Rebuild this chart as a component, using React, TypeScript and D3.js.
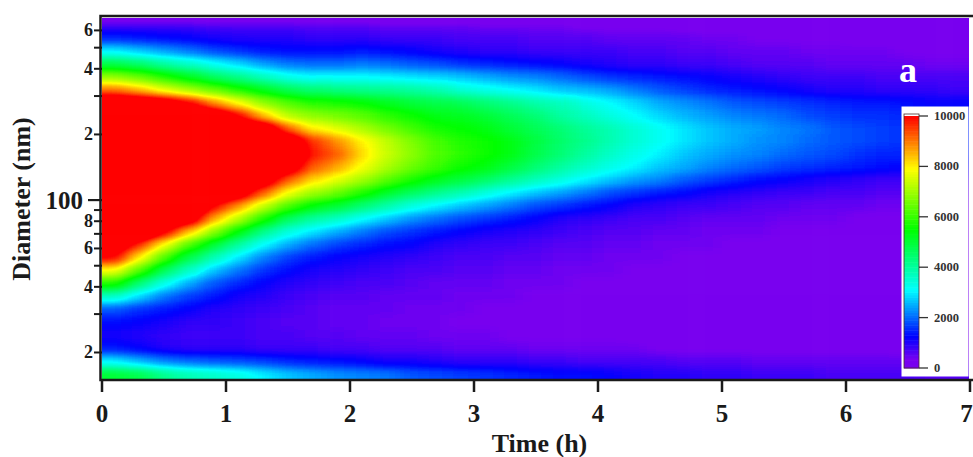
import * as d3 from "d3";

// bin centres
const times = [0.1, 0.3, 0.5, 0.7, 0.9, 1.1, 1.3, 1.5, 1.7, 1.9, 2.1, 2.3, 2.5, 2.7, 2.9, 3.1, 3.3, 3.5, 3.7, 3.9, 4.1, 4.3, 4.5, 4.7, 4.9, 5.1, 5.3, 5.5, 5.7, 5.9, 6.1, 6.3, 6.5, 6.7, 6.9];
const diameters = [670, 635, 554, 483, 421, 368, 321, 280, 244, 213, 186, 162, 141, 123, 108, 93.9, 81.9, 71.4, 62.3, 54.4, 47.4, 41.4, 36.1, 31.5, 27.5, 24, 20.9, 18.2, 15.9];

// counts in hundreds, one row per diameter, one column per time (120 = off the scale, shown red)
const counts = [
  [1, 1, 1, 1, 1, 1, 1, 1, 1, 1, 1, 1, 1, 1, 1, 1, 1, 1, 1, 1, 1, 1, 1, 1, 1, 1, 1, 1, 1, 1, 1, 1, 1, 1, 1],
  [8, 8, 8, 8, 7, 7, 7, 7, 6, 6, 6, 5, 5, 5, 5, 4, 4, 4, 4, 3, 3, 3, 3, 2, 2, 2, 2, 2, 2, 1, 1, 1, 1, 1, 1],
  [15, 14, 13, 12, 11, 10, 10, 10, 9, 9, 9, 8, 8, 8, 7, 7, 7, 6, 6, 6, 5, 5, 5, 5, 4, 4, 3, 3, 3, 3, 2, 2, 2, 2, 2],
  [30, 27, 24, 21, 18, 16, 14, 13, 13, 13, 14, 13, 12, 11, 10, 9, 9, 8, 8, 8, 8, 7, 7, 6, 6, 5, 5, 5, 4, 4, 4, 4, 3, 3, 3],
  [48, 45, 40, 36, 32, 28, 24, 21, 20, 20, 21, 20, 19, 18, 16, 15, 14, 13, 12, 11, 10, 9, 9, 8, 8, 7, 6, 6, 6, 5, 5, 5, 5, 4, 4],
  [68, 64, 58, 52, 46, 42, 37, 33, 31, 31, 31, 30, 29, 28, 27, 25, 23, 22, 20, 18, 16, 15, 14, 13, 12, 11, 10, 9, 8, 8, 8, 7, 7, 7, 7],
  [90, 84, 76, 70, 64, 58, 52, 47, 44, 43, 42, 41, 40, 38, 35, 33, 31, 29, 27, 26, 24, 21, 19, 17, 15, 14, 13, 12, 11, 10, 10, 9, 9, 9, 8],
  [115, 112, 108, 100, 88, 78, 68, 62, 58, 57, 55, 52, 50, 48, 47, 44, 42, 39, 37, 34, 31, 28, 25, 23, 21, 19, 18, 17, 16, 15, 14, 14, 13, 12, 12],
  [120, 120, 120, 120, 112, 100, 84, 72, 68, 66, 63, 59, 56, 53, 52, 50, 47, 44, 40, 37, 34, 31, 28, 26, 24, 22, 21, 20, 18, 17, 16, 16, 15, 15, 14],
  [120, 120, 120, 120, 120, 120, 112, 92, 80, 76, 71, 66, 61, 57, 55, 53, 50, 47, 44, 41, 38, 35, 32, 29, 27, 25, 24, 22, 21, 19, 18, 17, 16, 16, 15],
  [120, 120, 120, 120, 120, 120, 120, 112, 96, 88, 80, 73, 67, 61, 58, 56, 53, 49, 45, 42, 38, 35, 32, 29, 27, 25, 23, 22, 20, 19, 18, 17, 16, 15, 15],
  [120, 120, 120, 120, 120, 120, 120, 118, 98, 92, 82, 74, 68, 62, 59, 56, 53, 48, 44, 40, 36, 33, 30, 27, 25, 23, 22, 20, 19, 18, 16, 15, 15, 14, 14],
  [120, 120, 120, 120, 120, 120, 120, 108, 92, 86, 78, 71, 65, 60, 56, 53, 49, 44, 40, 36, 33, 30, 27, 25, 22, 20, 19, 17, 16, 15, 14, 13, 12, 12, 11],
  [120, 120, 120, 120, 120, 120, 108, 92, 82, 76, 70, 63, 57, 52, 49, 45, 41, 37, 34, 30, 27, 24, 22, 19, 17, 15, 13, 12, 11, 10, 9, 8, 8, 8, 7],
  [120, 120, 120, 120, 120, 108, 92, 78, 70, 65, 58, 51, 46, 42, 38, 34, 30, 27, 24, 21, 18, 16, 14, 13, 11, 10, 9, 8, 8, 7, 7, 6, 6, 6, 5],
  [120, 120, 120, 120, 100, 88, 74, 62, 54, 50, 44, 39, 34, 30, 27, 24, 21, 18, 16, 14, 12, 10, 9, 8, 8, 7, 6, 6, 5, 5, 5, 4, 4, 4, 4],
  [120, 120, 120, 108, 86, 72, 58, 46, 40, 36, 31, 27, 23, 20, 18, 16, 14, 12, 10, 9, 8, 7, 7, 6, 5, 5, 5, 4, 4, 4, 3, 3, 3, 3, 3],
  [120, 118, 102, 84, 68, 54, 42, 34, 29, 25, 21, 18, 16, 14, 12, 11, 10, 9, 8, 7, 6, 6, 5, 5, 4, 4, 4, 3, 3, 3, 3, 2, 2, 2, 2],
  [110, 96, 78, 62, 50, 40, 31, 25, 20, 17, 15, 13, 12, 10, 9, 8, 8, 7, 6, 6, 5, 5, 4, 4, 4, 3, 3, 3, 3, 2, 2, 2, 2, 2, 2],
  [100, 80, 62, 48, 38, 29, 22, 17, 14, 12, 11, 10, 9, 8, 7, 7, 6, 6, 5, 5, 4, 4, 4, 3, 3, 3, 3, 2, 2, 2, 2, 2, 2, 2, 2],
  [78, 62, 47, 36, 27, 21, 16, 13, 11, 10, 9, 8, 7, 7, 6, 6, 5, 5, 4, 4, 4, 3, 3, 3, 3, 2, 2, 2, 2, 2, 1, 1, 1, 1, 1],
  [58, 44, 33, 25, 19, 15, 12, 10, 9, 8, 7, 7, 6, 5, 5, 5, 4, 4, 4, 3, 3, 3, 2, 2, 2, 2, 2, 2, 2, 1, 1, 1, 1, 1, 1],
  [36, 28, 21, 17, 14, 11, 10, 8, 7, 6, 6, 5, 5, 5, 4, 4, 4, 3, 3, 3, 2, 2, 2, 2, 2, 2, 1, 1, 1, 1, 1, 1, 1, 1, 1],
  [19, 16, 14, 12, 10, 9, 8, 7, 6, 5, 5, 5, 4, 4, 4, 3, 3, 3, 3, 2, 2, 2, 2, 2, 1, 1, 1, 1, 1, 1, 1, 1, 1, 1, 1],
  [13, 12, 11, 9, 9, 8, 7, 6, 6, 5, 5, 4, 4, 4, 3, 3, 3, 3, 2, 2, 2, 2, 2, 2, 1, 1, 1, 1, 1, 1, 1, 1, 1, 1, 1],
  [11, 10, 9, 8, 8, 8, 7, 7, 6, 6, 5, 5, 5, 4, 4, 4, 3, 3, 3, 3, 3, 2, 2, 2, 2, 2, 2, 2, 2, 2, 2, 2, 2, 1, 1],
  [14, 12, 10, 9, 9, 9, 8, 8, 8, 7, 7, 6, 6, 6, 5, 5, 5, 4, 4, 4, 4, 4, 3, 3, 3, 3, 3, 3, 3, 3, 3, 3, 2, 2, 2],
  [30, 26, 22, 20, 19, 18, 17, 15, 14, 13, 12, 11, 11, 10, 9, 9, 9, 8, 8, 7, 7, 7, 7, 6, 6, 6, 5, 5, 5, 5, 5, 5, 5, 4, 4],
  [50, 48, 42, 38, 36, 34, 30, 27, 25, 23, 22, 21, 19, 18, 17, 16, 15, 14, 13, 13, 12, 11, 10, 10, 9, 9, 8, 8, 8, 7, 7, 7, 7, 6, 6],
];

const xTicks = [0, 1, 2, 3, 4, 5, 6, 7];
const yMajor = [100];
const yLabelled = [600, 400, 200, 80, 60, 40, 20];
const yMinor = [500, 300, 90, 70, 50, 30];
const legendTicks = [0, 2000, 4000, 6000, 8000, 10000];
const colorStops = [0, 350, 1250, 3100, 5500, 7900, 10000];
const colorRange = ["#7800f0", "#7800f0", "#0000ff", "#00ffff", "#00ff00", "#ffff00", "#ff0000"];

const width = 973;
const height = 457;
const plot = { left: 102, right: 969, top: 18, bottom: 379 };
const serif = "'Liberation Serif', 'Times New Roman', serif";
const ink = "#1a1a1a";
const maxLevel = 120;

const x = d3.scaleLinear().domain([0, 7]).range([102, 970]);
const y = d3.scaleLog().domain([14.8, 684]).range([381, 18]);
const color = d3.scaleLinear<string>().domain(colorStops).range(colorRange).clamp(true);
const legendY = d3.scaleLinear().domain([0, 10000]).range([368, 116]);

// the grey level of each cell goes through this table, so the smoothed field keeps the rainbow
const levels = d3.range(0, maxLevel + 1).map((i) => d3.rgb(color(i * 100)));
const table = (c: "r" | "g" | "b") => levels.map((l) => (l[c] / 255).toFixed(3)).join(" ");

const rowEdges = diameters.map((d, i) => {
  const top = i === 0 ? plot.top - 30 : (y(diameters[i - 1]) + y(d)) / 2;
  const bottom = i === diameters.length - 1 ? plot.bottom + 30 : (y(d) + y(diameters[i + 1])) / 2;
  return [top, bottom];
});
const colEdges = times.map((t, i) => [
  i === 0 ? plot.left - 40 : x(t - 0.1),
  i === times.length - 1 ? plot.right + 40 : x(t + 0.1),
]);

export default function App() {
  return (
    <svg width={width} height={height} style={{ position: "absolute", left: 0, top: 0 }}>
      <defs>
        <clipPath id="plotClip">
          <rect x={plot.left} y={plot.top} width={plot.right - plot.left} height={plot.bottom - plot.top} />
        </clipPath>
        <filter id="heat" filterUnits="userSpaceOnUse" x={0} y={-20} width={width + 60} height={height + 40} colorInterpolationFilters="sRGB">
          <feGaussianBlur stdDeviation="9 4" />
          <feComponentTransfer>
            <feFuncR type="table" tableValues={table("r")} />
            <feFuncG type="table" tableValues={table("g")} />
            <feFuncB type="table" tableValues={table("b")} />
          </feComponentTransfer>
        </filter>
      </defs>

      <g clipPath="url(#plotClip)">
        <g filter="url(#heat)">
          {counts.map((row, r) =>
            row.map((v, c) => {
              const g = Math.round((v / maxLevel) * 255);
              return (
                <rect
                  key={`${r}-${c}`}
                  x={colEdges[c][0]}
                  y={rowEdges[r][0]}
                  width={colEdges[c][1] - colEdges[c][0] + 0.5}
                  height={rowEdges[r][1] - rowEdges[r][0] + 0.5}
                  fill={`rgb(${g},${g},${g})`}
                />
              );
            })
          )}
        </g>
      </g>

      {/* frame: top, left and bottom only, the right side has no dark line */}
      <path
        d={`M${width},${plot.top - 2} H${plot.left - 1.5} V${plot.bottom + 1} H${width}`}
        fill="none"
        stroke={ink}
        strokeWidth={2.5}
      />

      {xTicks.map((t) => (
        <g key={t}>
          <line x1={x(t)} x2={x(t)} y1={plot.bottom + 1} y2={392} stroke={ink} strokeWidth={2.5} />
          <text x={t === 7 ? 966.5 : x(t)} y={422} textAnchor="middle" fontFamily={serif} fontWeight="bold" fontSize={25} fill={ink}>
            {t}
          </text>
        </g>
      ))}

      {yMajor.map((d) => (
        <g key={d}>
          <line x1={88} x2={plot.left} y1={y(d)} y2={y(d)} stroke={ink} strokeWidth={2.2} />
          <text x={83} y={y(d) + 8.5} textAnchor="end" fontFamily={serif} fontWeight="bold" fontSize={25} fill={ink}>
            {d}
          </text>
        </g>
      ))}
      {yLabelled.map((d) => (
        <g key={d}>
          <line x1={94} x2={plot.left} y1={y(d)} y2={y(d)} stroke={ink} strokeWidth={2} />
          <text x={93} y={y(d) + 6} textAnchor="end" fontFamily={serif} fontWeight="bold" fontSize={18} fill={ink}>
            {String(d).charAt(0)}
          </text>
        </g>
      ))}
      {yMinor.map((d) => (
        <line key={d} x1={94} x2={plot.left} y1={y(d)} y2={y(d)} stroke={ink} strokeWidth={2} />
      ))}

      <text x={539.5} y={452} textAnchor="middle" fontFamily={serif} fontWeight="bold" fontSize={26} fill={ink}>
        Time (h)
      </text>
      <text
        transform="translate(30,199) rotate(-90)"
        textAnchor="middle"
        fontFamily={serif}
        fontWeight="bold"
        fontSize={26}
        fill={ink}
      >
        Diameter (nm)
      </text>

      <text x={908} y={82} textAnchor="middle" fontFamily={serif} fontWeight="bold" fontSize={36} fill="#ffffff">
        a
      </text>

      <rect x={901.5} y={106.5} width={67} height={270} fill="#ffffff" />
      {d3.range(0, 10000, 100).map((v) => (
        <rect key={v} x={904} y={legendY(v + 100)} width={15} height={legendY(v) - legendY(v + 100) + 0.5} fill={color(v + 50)} />
      ))}
      <rect x={904} y={114} width={15} height={254} fill="none" stroke="#4a2a2a" strokeWidth={0.8} />
      {legendTicks.map((v) => (
        <g key={v}>
          <line x1={919} x2={928} y1={legendY(v)} y2={legendY(v)} stroke="#333" strokeWidth={1.3} />
          <text x={934} y={legendY(v) + 4} fontFamily={serif} fontWeight="bold" fontSize={12.5} fill="#333">
            {v}
          </text>
        </g>
      ))}
    </svg>
  );
}
